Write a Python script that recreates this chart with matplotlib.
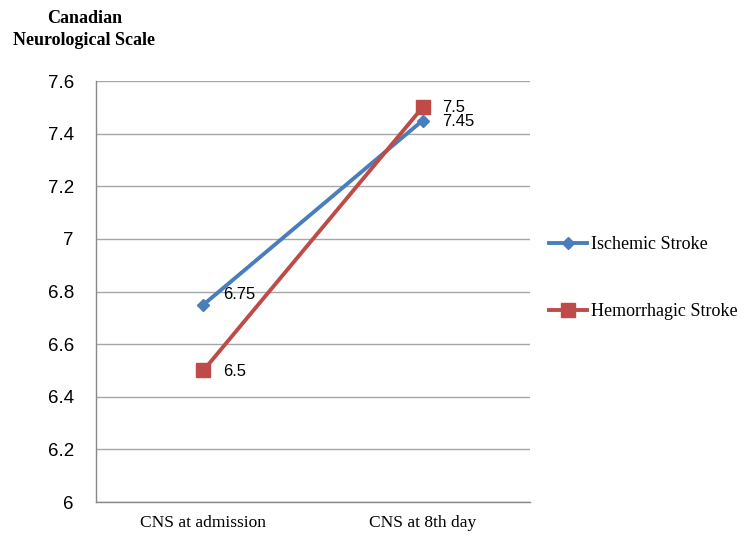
import matplotlib.pyplot as plt

categories = ['CNS at admission', 'CNS at 8th day']
ischemic = [6.75, 7.45]
hemorrhagic = [6.5, 7.5]
yticks = [6, 6.2, 6.4, 6.6, 6.8, 7, 7.2, 7.4, 7.6]
ytick_labels = ['6', '6.2', '6.4', '6.6', '6.8', '7', '7.2', '7.4', '7.6']

blue = '#4a7ebb'
red = '#be4b48'
serif = 'Liberation Serif'
sans = 'Liberation Sans'

fig = plt.figure(figsize=(7.52, 5.39), dpi=100)
ax = fig.add_axes([0.1277, 0.0686, 0.577, 0.781])

x = range(len(categories))
ax.plot(x, ischemic, color=blue, lw=2.8, marker='D', ms=6.5,
        label='Ischemic Stroke', zorder=3)
ax.plot(x, hemorrhagic, color=red, lw=2.8, marker='s', ms=9.5,
        label='Hemorrhagic Stroke', zorder=3)

# value labels to the right of each point
for xi, v in zip(x, ischemic):
    dy = 7 if xi == 0 else -1
    ax.annotate(str(v), (xi, v), xytext=(14, dy), textcoords='offset points',
                va='center', ha='left', fontsize=12, family=sans)
for xi, v in zip(x, hemorrhagic):
    dy = -1 if xi == 0 else 0
    ax.annotate(str(v), (xi, v), xytext=(14, dy), textcoords='offset points',
                va='center', ha='left', fontsize=12, family=sans)

ax.set_xlim(-0.49, 1.49)
ax.set_ylim(6, 7.6)
ax.set_yticks(yticks)
ax.set_yticklabels(ytick_labels, fontsize=13.5, family=sans)
ax.set_xticks(list(x))
ax.set_xticklabels(categories, fontsize=12.5, family=serif)
ax.tick_params(axis='x', length=0, pad=9)
ax.tick_params(axis='y', length=0, pad=16)

ax.yaxis.grid(True, color='#a6a6a6', lw=1)
ax.set_axisbelow(True)
for s in ['top', 'right']:
    ax.spines[s].set_visible(False)
for s in ['left', 'bottom']:
    ax.spines[s].set_color('#888888')
    ax.spines[s].set_linewidth(1)

fig.text(0.112, 0.945, 'Canadian\nNeurological Scale', ha='center', va='center',
         fontsize=13, fontweight='bold', family=serif, linespacing=1.35)

fig.legend(loc='center left', bbox_to_anchor=(0.709, 0.484), frameon=False,
           prop={'family': serif, 'size': 13}, labelspacing=2.8,
           handlelength=2.1, handletextpad=0.2)

fig.savefig('out.png', dpi=100)
